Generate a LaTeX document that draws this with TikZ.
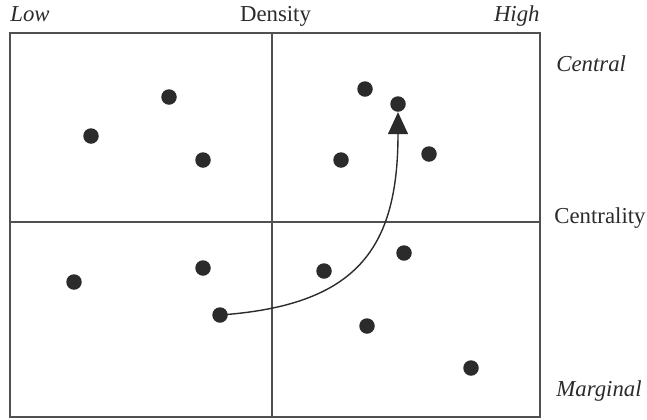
\documentclass[tikz,border=0pt]{standalone}
\usepackage{fontspec}
\setmainfont{Liberation Serif}
\usetikzlibrary{positioning, calc, arrows.meta}
\definecolor{Dark}{HTML}{2B2B2B}
\definecolor{Frame}{HTML}{505050}
\tikzset{
    dot/.style={circle, fill=Dark, inner sep=0pt, minimum size=7.75pt},
    frame/.style={draw=Frame, line width=0.6pt},
    lbl/.style={inner sep=0pt, font=\fontsize{11.4}{13}\selectfont, text=Dark},
    arc/.style={-{Triangle[length=11pt, width=10pt]}, line width=0.7pt, color=Dark},
}

\begin{document}
\begin{tikzpicture}[x=0.5pt, y=-0.5pt]
    \useasboundingbox (0,0) rectangle (647,419);

    % Riquadro e quadranti
    \draw[frame] (10,33) rectangle (540,417);
    \draw[frame] (272,33) -- (272,417);
    \draw[frame] (10,222) -- (540,222);

    % Etichette degli assi
    \node[lbl, anchor=base west] (low) at (10,21) {\itshape Low};
    \node[lbl, anchor=base] (density) at (275.5,21) {Density};
    \node[lbl, anchor=base east] (high) at (540,21) {\itshape High};
    \node[lbl, anchor=base west] (central) at (556,71) {\itshape Central};
    \node[lbl, anchor=base west] (centrality) at (554,223) {Centrality};
    \node[lbl, anchor=base west] (marginal) at (556,396) {\itshape Marginal};

    % Punti
    \foreach \p [count=\i] in {(169,97), (91,136), (203,160), (365,89), (341,160), (429,154),
        (74,282), (203,268), (324,271), (404,253), (367,326), (471,368)}
        \node[dot] (p\i) at \p {};

    % Spostamento
    \node[dot] (start) at (220,315) {};
    \node[dot] (target) at (398,104) {};
    \draw[arc] (start.center) to[out=4, in=-90, looseness=1.3] (target.south);
\end{tikzpicture}
\end{document}
